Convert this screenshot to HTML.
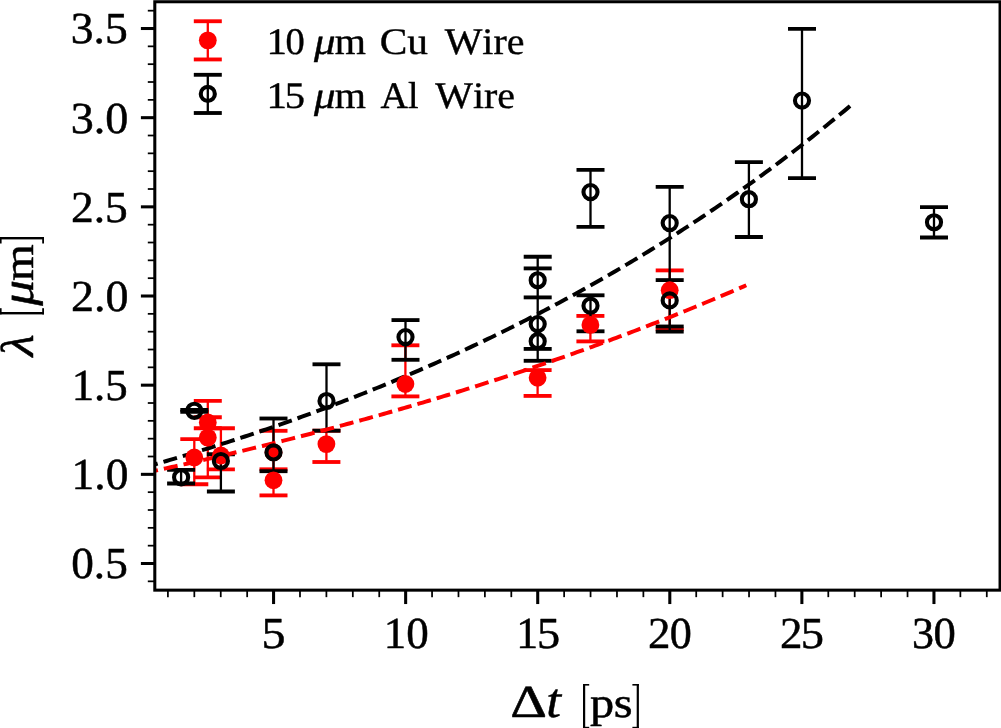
<!DOCTYPE html>
<html lang="en">
<head>
<meta charset="utf-8">
<title>Wavelength vs. delay</title>
<style>
html,body{margin:0;padding:0;background:#ffffff;}
body{width:1001px;height:728px;overflow:hidden;position:relative;font-family:"Liberation Serif",serif;}
</style>
</head>
<body>
<svg width="1001" height="728" viewBox="0 0 1001 728" style="display:block;position:absolute;left:0;top:0;will-change:transform" text-rendering="geometricPrecision" font-family="'Liberation Serif', serif" fill="#000">
<rect x="0" y="0" width="1001" height="728" fill="#ffffff"/>
<defs><clipPath id="ax"><rect x="154.8" y="1.75" width="845.25" height="588.4"/></clipPath></defs>
<g clip-path="url(#ax)">
<line x1="194.30" y1="439.10" x2="194.30" y2="484.20" stroke="#ff0000" stroke-width="2.3"/>
<line x1="207.80" y1="417.20" x2="207.80" y2="428.20" stroke="#ff0000" stroke-width="2.3"/>
<line x1="207.80" y1="400.90" x2="207.80" y2="477.30" stroke="#ff0000" stroke-width="2.3"/>
<line x1="220.90" y1="428.20" x2="220.90" y2="469.30" stroke="#ff0000" stroke-width="2.3"/>
<line x1="273.50" y1="430.80" x2="273.50" y2="495.40" stroke="#ff0000" stroke-width="2.3"/>
<line x1="326.40" y1="430.70" x2="326.40" y2="462.00" stroke="#ff0000" stroke-width="2.3"/>
<line x1="405.40" y1="345.30" x2="405.40" y2="396.40" stroke="#ff0000" stroke-width="2.3"/>
<line x1="537.60" y1="370.10" x2="537.60" y2="395.90" stroke="#ff0000" stroke-width="2.3"/>
<line x1="590.40" y1="315.90" x2="590.40" y2="341.40" stroke="#ff0000" stroke-width="2.3"/>
<line x1="669.70" y1="270.40" x2="669.70" y2="329.20" stroke="#ff0000" stroke-width="2.3"/>
<line x1="180.30" y1="439.10" x2="208.30" y2="439.10" stroke="#ff0000" stroke-width="3.85"/>
<line x1="180.30" y1="484.20" x2="208.30" y2="484.20" stroke="#ff0000" stroke-width="3.85"/>
<line x1="193.80" y1="417.20" x2="221.80" y2="417.20" stroke="#ff0000" stroke-width="3.85"/>
<line x1="193.80" y1="428.20" x2="221.80" y2="428.20" stroke="#ff0000" stroke-width="3.85"/>
<line x1="193.80" y1="400.90" x2="221.80" y2="400.90" stroke="#ff0000" stroke-width="3.85"/>
<line x1="193.80" y1="477.30" x2="221.80" y2="477.30" stroke="#ff0000" stroke-width="3.85"/>
<line x1="206.90" y1="428.20" x2="234.90" y2="428.20" stroke="#ff0000" stroke-width="3.85"/>
<line x1="206.90" y1="469.30" x2="234.90" y2="469.30" stroke="#ff0000" stroke-width="3.85"/>
<line x1="259.50" y1="430.80" x2="287.50" y2="430.80" stroke="#ff0000" stroke-width="3.85"/>
<line x1="259.50" y1="469.30" x2="287.50" y2="469.30" stroke="#ff0000" stroke-width="3.85"/>
<line x1="259.50" y1="495.40" x2="287.50" y2="495.40" stroke="#ff0000" stroke-width="3.85"/>
<line x1="312.40" y1="430.70" x2="340.40" y2="430.70" stroke="#ff0000" stroke-width="3.85"/>
<line x1="312.40" y1="462.00" x2="340.40" y2="462.00" stroke="#ff0000" stroke-width="3.85"/>
<line x1="391.40" y1="345.30" x2="419.40" y2="345.30" stroke="#ff0000" stroke-width="3.85"/>
<line x1="391.40" y1="396.40" x2="419.40" y2="396.40" stroke="#ff0000" stroke-width="3.85"/>
<line x1="523.60" y1="370.10" x2="551.60" y2="370.10" stroke="#ff0000" stroke-width="3.85"/>
<line x1="523.60" y1="395.90" x2="551.60" y2="395.90" stroke="#ff0000" stroke-width="3.85"/>
<line x1="576.40" y1="315.90" x2="604.40" y2="315.90" stroke="#ff0000" stroke-width="3.85"/>
<line x1="576.40" y1="341.40" x2="604.40" y2="341.40" stroke="#ff0000" stroke-width="3.85"/>
<line x1="655.70" y1="270.40" x2="683.70" y2="270.40" stroke="#ff0000" stroke-width="3.85"/>
<line x1="655.70" y1="329.20" x2="683.70" y2="329.20" stroke="#ff0000" stroke-width="3.85"/>
<line x1="181.10" y1="469.80" x2="181.10" y2="483.50" stroke="#000000" stroke-width="2.3"/>
<line x1="194.30" y1="409.90" x2="194.30" y2="411.80" stroke="#000000" stroke-width="2.3"/>
<line x1="220.90" y1="454.20" x2="220.90" y2="491.50" stroke="#000000" stroke-width="2.3"/>
<line x1="273.50" y1="418.50" x2="273.50" y2="471.20" stroke="#000000" stroke-width="2.3"/>
<line x1="326.50" y1="364.30" x2="326.50" y2="430.70" stroke="#000000" stroke-width="2.3"/>
<line x1="405.50" y1="320.10" x2="405.50" y2="359.80" stroke="#000000" stroke-width="2.3"/>
<line x1="537.70" y1="256.80" x2="537.70" y2="360.80" stroke="#000000" stroke-width="2.3"/>
<line x1="590.50" y1="169.80" x2="590.50" y2="226.90" stroke="#000000" stroke-width="2.3"/>
<line x1="590.50" y1="295.30" x2="590.50" y2="331.30" stroke="#000000" stroke-width="2.3"/>
<line x1="669.70" y1="186.80" x2="669.70" y2="331.60" stroke="#000000" stroke-width="2.3"/>
<line x1="748.90" y1="162.10" x2="748.90" y2="237.00" stroke="#000000" stroke-width="2.3"/>
<line x1="802.00" y1="28.90" x2="802.00" y2="178.10" stroke="#000000" stroke-width="2.3"/>
<line x1="934.00" y1="207.10" x2="934.00" y2="237.50" stroke="#000000" stroke-width="2.3"/>
<line x1="167.10" y1="469.80" x2="195.10" y2="469.80" stroke="#000000" stroke-width="3.85"/>
<line x1="167.10" y1="483.50" x2="195.10" y2="483.50" stroke="#000000" stroke-width="3.85"/>
<line x1="180.30" y1="409.90" x2="208.30" y2="409.90" stroke="#000000" stroke-width="3.85"/>
<line x1="180.30" y1="411.80" x2="208.30" y2="411.80" stroke="#000000" stroke-width="3.85"/>
<line x1="206.90" y1="454.20" x2="234.90" y2="454.20" stroke="#000000" stroke-width="3.85"/>
<line x1="206.90" y1="491.50" x2="234.90" y2="491.50" stroke="#000000" stroke-width="3.85"/>
<line x1="259.50" y1="418.50" x2="287.50" y2="418.50" stroke="#000000" stroke-width="3.85"/>
<line x1="259.50" y1="471.20" x2="287.50" y2="471.20" stroke="#000000" stroke-width="3.85"/>
<line x1="312.50" y1="364.30" x2="340.50" y2="364.30" stroke="#000000" stroke-width="3.85"/>
<line x1="312.50" y1="430.70" x2="340.50" y2="430.70" stroke="#000000" stroke-width="3.85"/>
<line x1="391.50" y1="320.10" x2="419.50" y2="320.10" stroke="#000000" stroke-width="3.85"/>
<line x1="391.50" y1="359.80" x2="419.50" y2="359.80" stroke="#000000" stroke-width="3.85"/>
<line x1="523.70" y1="256.80" x2="551.70" y2="256.80" stroke="#000000" stroke-width="3.85"/>
<line x1="523.70" y1="268.40" x2="551.70" y2="268.40" stroke="#000000" stroke-width="3.85"/>
<line x1="523.70" y1="297.40" x2="551.70" y2="297.40" stroke="#000000" stroke-width="3.85"/>
<line x1="523.70" y1="348.90" x2="551.70" y2="348.90" stroke="#000000" stroke-width="3.85"/>
<line x1="523.70" y1="360.80" x2="551.70" y2="360.80" stroke="#000000" stroke-width="3.85"/>
<line x1="576.50" y1="169.80" x2="604.50" y2="169.80" stroke="#000000" stroke-width="3.85"/>
<line x1="576.50" y1="226.90" x2="604.50" y2="226.90" stroke="#000000" stroke-width="3.85"/>
<line x1="576.50" y1="295.30" x2="604.50" y2="295.30" stroke="#000000" stroke-width="3.85"/>
<line x1="576.50" y1="331.30" x2="604.50" y2="331.30" stroke="#000000" stroke-width="3.85"/>
<line x1="655.70" y1="186.80" x2="683.70" y2="186.80" stroke="#000000" stroke-width="3.85"/>
<line x1="655.70" y1="280.10" x2="683.70" y2="280.10" stroke="#000000" stroke-width="3.85"/>
<line x1="655.70" y1="326.50" x2="683.70" y2="326.50" stroke="#000000" stroke-width="3.85"/>
<line x1="655.70" y1="331.60" x2="683.70" y2="331.60" stroke="#000000" stroke-width="3.85"/>
<line x1="734.90" y1="162.10" x2="762.90" y2="162.10" stroke="#000000" stroke-width="3.85"/>
<line x1="734.90" y1="237.00" x2="762.90" y2="237.00" stroke="#000000" stroke-width="3.85"/>
<line x1="788.00" y1="28.90" x2="816.00" y2="28.90" stroke="#000000" stroke-width="3.85"/>
<line x1="788.00" y1="178.10" x2="816.00" y2="178.10" stroke="#000000" stroke-width="3.85"/>
<line x1="920.00" y1="207.10" x2="948.00" y2="207.10" stroke="#000000" stroke-width="3.85"/>
<line x1="920.00" y1="237.50" x2="948.00" y2="237.50" stroke="#000000" stroke-width="3.85"/>
<polyline points="141.50,473.63 144.52,472.98 147.55,472.33 150.57,471.69 153.60,471.03 156.62,470.38 159.64,469.72 162.67,469.06 165.69,468.40 168.71,467.74 171.74,467.07 174.76,466.41 177.79,465.73 180.81,465.06 183.83,464.39 186.86,463.71 189.88,463.03 192.91,462.34 195.93,461.66 198.95,460.97 201.98,460.28 205.00,459.59 208.02,458.89 211.05,458.20 214.07,457.50 217.10,456.79 220.12,456.09 223.14,455.38 226.17,454.67 229.19,453.96 232.22,453.24 235.24,452.52 238.26,451.80 241.29,451.08 244.31,450.35 247.33,449.62 250.36,448.89 253.38,448.16 256.41,447.42 259.43,446.68 262.45,445.94 265.48,445.20 268.50,444.45 271.53,443.70 274.55,442.95 277.57,442.19 280.60,441.43 283.62,440.67 286.65,439.91 289.67,439.14 292.69,438.38 295.72,437.60 298.74,436.83 301.76,436.05 304.79,435.27 307.81,434.49 310.84,433.70 313.86,432.91 316.88,432.12 319.91,431.33 322.93,430.53 325.96,429.73 328.98,428.93 332.00,428.12 335.03,427.32 338.05,426.50 341.07,425.69 344.10,424.87 347.12,424.05 350.15,423.23 353.17,422.40 356.19,421.57 359.22,420.74 362.24,419.91 365.27,419.07 368.29,418.23 371.31,417.38 374.34,416.53 377.36,415.68 380.38,414.83 383.41,413.97 386.43,413.11 389.46,412.25 392.48,411.39 395.50,410.52 398.53,409.65 401.55,408.77 404.58,407.89 407.60,407.01 410.62,406.13 413.65,405.24 416.67,404.35 419.69,403.45 422.72,402.56 425.74,401.66 428.77,400.75 431.79,399.84 434.81,398.93 437.84,398.02 440.86,397.10 443.89,396.18 446.91,395.26 449.93,394.33 452.96,393.40 455.98,392.47 459.00,391.53 462.03,390.59 465.05,389.65 468.08,388.70 471.10,387.75 474.12,386.80 477.15,385.84 480.17,384.88 483.20,383.91 486.22,382.95 489.24,381.97 492.27,381.00 495.29,380.02 498.32,379.04 501.34,378.05 504.36,377.06 507.39,376.07 510.41,375.08 513.43,374.08 516.46,373.07 519.48,372.07 522.51,371.06 525.53,370.04 528.55,369.02 531.58,368.00 534.60,366.98 537.63,365.95 540.65,364.92 543.67,363.88 546.70,362.84 549.72,361.80 552.74,360.75 555.77,359.70 558.79,358.64 561.82,357.58 564.84,356.52 567.86,355.46 570.89,354.39 573.91,353.31 576.94,352.23 579.96,351.15 582.98,350.07 586.01,348.98 589.03,347.88 592.05,346.78 595.08,345.68 598.10,344.58 601.13,343.47 604.15,342.35 607.17,341.24 610.20,340.12 613.22,338.99 616.25,337.86 619.27,336.73 622.29,335.59 625.32,334.45 628.34,333.30 631.36,332.15 634.39,331.00 637.41,329.84 640.44,328.68 643.46,327.51 646.48,326.34 649.51,325.16 652.53,323.98 655.56,322.80 658.58,321.61 661.60,320.42 664.63,319.22 667.65,318.02 670.67,316.82 673.70,315.61 676.72,314.40 679.75,313.18 682.77,311.96 685.79,310.73 688.82,309.50 691.84,308.26 694.87,307.02 697.89,305.78 700.91,304.53 703.94,303.27 706.96,302.02 709.99,300.75 713.01,299.49 716.03,298.21 719.06,296.94 722.08,295.66 725.10,294.37 728.13,293.08 731.15,291.79 734.18,290.49 737.20,289.18 740.22,287.87 743.25,286.56 746.27,285.24" fill="none" stroke="#ff0000" stroke-width="4.0" stroke-dasharray="14.05 6.08" stroke-dashoffset="-2.75" stroke-linecap="butt" stroke-linejoin="round"/>
<polyline points="141.50,468.17 145.07,467.16 148.63,466.14 152.20,465.12 155.76,464.09 159.33,463.06 162.90,462.02 166.46,460.97 170.03,459.92 173.59,458.87 177.16,457.80 180.73,456.74 184.29,455.66 187.86,454.58 191.42,453.50 194.99,452.40 198.56,451.31 202.12,450.20 205.69,449.09 209.25,447.98 212.82,446.86 216.39,445.73 219.95,444.59 223.52,443.45 227.08,442.31 230.65,441.15 234.22,439.99 237.78,438.83 241.35,437.66 244.91,436.48 248.48,435.29 252.05,434.10 255.61,432.90 259.18,431.70 262.74,430.49 266.31,429.27 269.88,428.05 273.44,426.81 277.01,425.58 280.57,424.33 284.14,423.08 287.71,421.82 291.27,420.56 294.84,419.28 298.41,418.00 301.97,416.72 305.54,415.42 309.10,414.12 312.67,412.82 316.24,411.50 319.80,410.18 323.37,408.85 326.93,407.52 330.50,406.17 334.07,404.82 337.63,403.46 341.20,402.10 344.76,400.72 348.33,399.34 351.90,397.95 355.46,396.56 359.03,395.15 362.59,393.74 366.16,392.32 369.73,390.90 373.29,389.46 376.86,388.02 380.42,386.57 383.99,385.11 387.56,383.64 391.12,382.17 394.69,380.68 398.25,379.19 401.82,377.70 405.39,376.19 408.95,374.67 412.52,373.15 416.08,371.62 419.65,370.08 423.22,368.53 426.78,366.97 430.35,365.40 433.91,363.83 437.48,362.25 441.05,360.65 444.61,359.05 448.18,357.44 451.74,355.83 455.31,354.20 458.88,352.56 462.44,350.92 466.01,349.26 469.57,347.60 473.14,345.93 476.71,344.25 480.27,342.56 483.84,340.86 487.40,339.15 490.97,337.43 494.54,335.70 498.10,333.97 501.67,332.22 505.23,330.46 508.80,328.70 512.37,326.92 515.93,325.13 519.50,323.34 523.06,321.53 526.63,319.72 530.20,317.89 533.76,316.06 537.33,314.21 540.89,312.36 544.46,310.49 548.03,308.62 551.59,306.73 555.16,304.84 558.72,302.93 562.29,301.01 565.86,299.09 569.42,297.15 572.99,295.20 576.56,293.24 580.12,291.27 583.69,289.29 587.25,287.30 590.82,285.29 594.39,283.28 597.95,281.26 601.52,279.22 605.08,277.17 608.65,275.11 612.22,273.05 615.78,270.96 619.35,268.87 622.91,266.77 626.48,264.65 630.05,262.53 633.61,260.39 637.18,258.24 640.74,256.08 644.31,253.90 647.88,251.72 651.44,249.52 655.01,247.31 658.57,245.09 662.14,242.85 665.71,240.61 669.27,238.35 672.84,236.08 676.40,233.79 679.97,231.50 683.54,229.19 687.10,226.87 690.67,224.54 694.23,222.19 697.80,219.83 701.37,217.46 704.93,215.07 708.50,212.67 712.06,210.26 715.63,207.84 719.20,205.40 722.76,202.95 726.33,200.48 729.89,198.00 733.46,195.51 737.03,193.01 740.59,190.49 744.16,187.95 747.72,185.41 751.29,182.84 754.86,180.27 758.42,177.68 761.99,175.08 765.55,172.46 769.12,169.83 772.69,167.18 776.25,164.52 779.82,161.84 783.38,159.15 786.95,156.45 790.52,153.73 794.08,150.99 797.65,148.24 801.21,145.48 804.78,142.70 808.35,139.90 811.91,137.09 815.48,134.27 819.04,131.43 822.61,128.57 826.18,125.70 829.74,122.81 833.31,119.90 836.87,116.98 840.44,114.05 844.01,111.09 847.57,108.13 851.14,105.14 854.70,102.14" fill="none" stroke="#000000" stroke-width="4.0" stroke-dasharray="14.05 6.08" stroke-dashoffset="-2.75" stroke-linecap="butt" stroke-linejoin="round"/>
<circle cx="194.30" cy="457.50" r="8.9" fill="#ff0000"/>
<circle cx="207.80" cy="422.50" r="8.9" fill="#ff0000"/>
<circle cx="207.80" cy="437.60" r="8.9" fill="#ff0000"/>
<circle cx="220.90" cy="455.50" r="8.9" fill="#ff0000"/>
<circle cx="273.50" cy="480.30" r="8.9" fill="#ff0000"/>
<circle cx="273.50" cy="452.40" r="8.9" fill="#ff0000"/>
<circle cx="326.40" cy="444.10" r="8.9" fill="#ff0000"/>
<circle cx="405.40" cy="384.00" r="8.9" fill="#ff0000"/>
<circle cx="537.60" cy="377.80" r="8.9" fill="#ff0000"/>
<circle cx="590.40" cy="324.90" r="8.9" fill="#ff0000"/>
<circle cx="669.70" cy="290.20" r="8.9" fill="#ff0000"/>
<circle cx="181.10" cy="477.30" r="7.05" fill="none" stroke="#000000" stroke-width="4.1"/>
<circle cx="194.30" cy="410.80" r="7.05" fill="none" stroke="#000000" stroke-width="4.1"/>
<circle cx="220.90" cy="461.00" r="7.05" fill="none" stroke="#000000" stroke-width="4.1"/>
<circle cx="273.50" cy="452.40" r="7.05" fill="none" stroke="#000000" stroke-width="4.1"/>
<circle cx="326.50" cy="401.00" r="7.05" fill="none" stroke="#000000" stroke-width="4.1"/>
<circle cx="405.50" cy="337.10" r="7.05" fill="none" stroke="#000000" stroke-width="4.1"/>
<circle cx="537.70" cy="280.30" r="7.05" fill="none" stroke="#000000" stroke-width="4.1"/>
<circle cx="537.70" cy="324.10" r="7.05" fill="none" stroke="#000000" stroke-width="4.1"/>
<circle cx="537.70" cy="341.20" r="7.05" fill="none" stroke="#000000" stroke-width="4.1"/>
<circle cx="590.50" cy="192.10" r="7.05" fill="none" stroke="#000000" stroke-width="4.1"/>
<circle cx="590.50" cy="305.70" r="7.05" fill="none" stroke="#000000" stroke-width="4.1"/>
<circle cx="669.70" cy="223.10" r="7.05" fill="none" stroke="#000000" stroke-width="4.1"/>
<circle cx="669.70" cy="300.40" r="7.05" fill="none" stroke="#000000" stroke-width="4.1"/>
<circle cx="748.90" cy="199.20" r="7.05" fill="none" stroke="#000000" stroke-width="4.1"/>
<circle cx="802.00" cy="100.60" r="7.05" fill="none" stroke="#000000" stroke-width="4.1"/>
<circle cx="934.00" cy="222.30" r="7.05" fill="none" stroke="#000000" stroke-width="4.1"/>
</g>
<line x1="167.91" y1="590.15" x2="167.91" y2="597.15" stroke="#000" stroke-width="1.75"/>
<line x1="194.33" y1="590.15" x2="194.33" y2="597.15" stroke="#000" stroke-width="1.75"/>
<line x1="220.75" y1="590.15" x2="220.75" y2="597.15" stroke="#000" stroke-width="1.75"/>
<line x1="247.16" y1="590.15" x2="247.16" y2="597.15" stroke="#000" stroke-width="1.75"/>
<line x1="273.57" y1="590.15" x2="273.57" y2="604.05" stroke="#000" stroke-width="3.05"/>
<line x1="299.99" y1="590.15" x2="299.99" y2="597.15" stroke="#000" stroke-width="1.75"/>
<line x1="326.40" y1="590.15" x2="326.40" y2="597.15" stroke="#000" stroke-width="1.75"/>
<line x1="352.82" y1="590.15" x2="352.82" y2="597.15" stroke="#000" stroke-width="1.75"/>
<line x1="379.24" y1="590.15" x2="379.24" y2="597.15" stroke="#000" stroke-width="1.75"/>
<line x1="405.65" y1="590.15" x2="405.65" y2="604.05" stroke="#000" stroke-width="3.05"/>
<line x1="432.06" y1="590.15" x2="432.06" y2="597.15" stroke="#000" stroke-width="1.75"/>
<line x1="458.48" y1="590.15" x2="458.48" y2="597.15" stroke="#000" stroke-width="1.75"/>
<line x1="484.89" y1="590.15" x2="484.89" y2="597.15" stroke="#000" stroke-width="1.75"/>
<line x1="511.31" y1="590.15" x2="511.31" y2="597.15" stroke="#000" stroke-width="1.75"/>
<line x1="537.72" y1="590.15" x2="537.72" y2="604.05" stroke="#000" stroke-width="3.05"/>
<line x1="564.14" y1="590.15" x2="564.14" y2="597.15" stroke="#000" stroke-width="1.75"/>
<line x1="590.56" y1="590.15" x2="590.56" y2="597.15" stroke="#000" stroke-width="1.75"/>
<line x1="616.97" y1="590.15" x2="616.97" y2="597.15" stroke="#000" stroke-width="1.75"/>
<line x1="643.38" y1="590.15" x2="643.38" y2="597.15" stroke="#000" stroke-width="1.75"/>
<line x1="669.80" y1="590.15" x2="669.80" y2="604.05" stroke="#000" stroke-width="3.05"/>
<line x1="696.22" y1="590.15" x2="696.22" y2="597.15" stroke="#000" stroke-width="1.75"/>
<line x1="722.63" y1="590.15" x2="722.63" y2="597.15" stroke="#000" stroke-width="1.75"/>
<line x1="749.04" y1="590.15" x2="749.04" y2="597.15" stroke="#000" stroke-width="1.75"/>
<line x1="775.46" y1="590.15" x2="775.46" y2="597.15" stroke="#000" stroke-width="1.75"/>
<line x1="801.88" y1="590.15" x2="801.88" y2="604.05" stroke="#000" stroke-width="3.05"/>
<line x1="828.29" y1="590.15" x2="828.29" y2="597.15" stroke="#000" stroke-width="1.75"/>
<line x1="854.70" y1="590.15" x2="854.70" y2="597.15" stroke="#000" stroke-width="1.75"/>
<line x1="881.12" y1="590.15" x2="881.12" y2="597.15" stroke="#000" stroke-width="1.75"/>
<line x1="907.53" y1="590.15" x2="907.53" y2="597.15" stroke="#000" stroke-width="1.75"/>
<line x1="933.95" y1="590.15" x2="933.95" y2="604.05" stroke="#000" stroke-width="3.05"/>
<line x1="960.37" y1="590.15" x2="960.37" y2="597.15" stroke="#000" stroke-width="1.75"/>
<line x1="986.78" y1="590.15" x2="986.78" y2="597.15" stroke="#000" stroke-width="1.75"/>
<line x1="154.8" y1="581.34" x2="147.8" y2="581.34" stroke="#000" stroke-width="1.75"/>
<line x1="154.8" y1="563.50" x2="140.9" y2="563.50" stroke="#000" stroke-width="3.05"/>
<line x1="154.8" y1="545.67" x2="147.8" y2="545.67" stroke="#000" stroke-width="1.75"/>
<line x1="154.8" y1="527.84" x2="147.8" y2="527.84" stroke="#000" stroke-width="1.75"/>
<line x1="154.8" y1="510.01" x2="147.8" y2="510.01" stroke="#000" stroke-width="1.75"/>
<line x1="154.8" y1="492.17" x2="147.8" y2="492.17" stroke="#000" stroke-width="1.75"/>
<line x1="154.8" y1="474.34" x2="140.9" y2="474.34" stroke="#000" stroke-width="3.05"/>
<line x1="154.8" y1="456.51" x2="147.8" y2="456.51" stroke="#000" stroke-width="1.75"/>
<line x1="154.8" y1="438.67" x2="147.8" y2="438.67" stroke="#000" stroke-width="1.75"/>
<line x1="154.8" y1="420.84" x2="147.8" y2="420.84" stroke="#000" stroke-width="1.75"/>
<line x1="154.8" y1="403.01" x2="147.8" y2="403.01" stroke="#000" stroke-width="1.75"/>
<line x1="154.8" y1="385.17" x2="140.9" y2="385.17" stroke="#000" stroke-width="3.05"/>
<line x1="154.8" y1="367.34" x2="147.8" y2="367.34" stroke="#000" stroke-width="1.75"/>
<line x1="154.8" y1="349.51" x2="147.8" y2="349.51" stroke="#000" stroke-width="1.75"/>
<line x1="154.8" y1="331.68" x2="147.8" y2="331.68" stroke="#000" stroke-width="1.75"/>
<line x1="154.8" y1="313.84" x2="147.8" y2="313.84" stroke="#000" stroke-width="1.75"/>
<line x1="154.8" y1="296.01" x2="140.9" y2="296.01" stroke="#000" stroke-width="3.05"/>
<line x1="154.8" y1="278.18" x2="147.8" y2="278.18" stroke="#000" stroke-width="1.75"/>
<line x1="154.8" y1="260.34" x2="147.8" y2="260.34" stroke="#000" stroke-width="1.75"/>
<line x1="154.8" y1="242.51" x2="147.8" y2="242.51" stroke="#000" stroke-width="1.75"/>
<line x1="154.8" y1="224.68" x2="147.8" y2="224.68" stroke="#000" stroke-width="1.75"/>
<line x1="154.8" y1="206.84" x2="140.9" y2="206.84" stroke="#000" stroke-width="3.05"/>
<line x1="154.8" y1="189.01" x2="147.8" y2="189.01" stroke="#000" stroke-width="1.75"/>
<line x1="154.8" y1="171.18" x2="147.8" y2="171.18" stroke="#000" stroke-width="1.75"/>
<line x1="154.8" y1="153.35" x2="147.8" y2="153.35" stroke="#000" stroke-width="1.75"/>
<line x1="154.8" y1="135.51" x2="147.8" y2="135.51" stroke="#000" stroke-width="1.75"/>
<line x1="154.8" y1="117.68" x2="140.9" y2="117.68" stroke="#000" stroke-width="3.05"/>
<line x1="154.8" y1="99.85" x2="147.8" y2="99.85" stroke="#000" stroke-width="1.75"/>
<line x1="154.8" y1="82.01" x2="147.8" y2="82.01" stroke="#000" stroke-width="1.75"/>
<line x1="154.8" y1="64.18" x2="147.8" y2="64.18" stroke="#000" stroke-width="1.75"/>
<line x1="154.8" y1="46.35" x2="147.8" y2="46.35" stroke="#000" stroke-width="1.75"/>
<line x1="154.8" y1="28.51" x2="140.9" y2="28.51" stroke="#000" stroke-width="3.05"/>
<line x1="154.8" y1="10.68" x2="147.8" y2="10.68" stroke="#000" stroke-width="1.75"/>
<rect x="154.8" y="1.75" width="845.25" height="588.4" fill="none" stroke="#000" stroke-width="3.05"/>
<text x="70.82" y="43.41" font-size="44.3" textLength="56.96" lengthAdjust="spacingAndGlyphs" style="font-kerning:none" stroke="#000" stroke-width="0.5" stroke-linejoin="round">3.5</text>
<text x="70.79" y="132.58" font-size="44.3" textLength="57.66" lengthAdjust="spacingAndGlyphs" style="font-kerning:none" stroke="#000" stroke-width="0.5" stroke-linejoin="round">3.0</text>
<text x="71.00" y="221.74" font-size="44.3" textLength="56.77" lengthAdjust="spacingAndGlyphs" style="font-kerning:none" stroke="#000" stroke-width="0.5" stroke-linejoin="round">2.5</text>
<text x="70.98" y="310.91" font-size="44.3" textLength="57.47" lengthAdjust="spacingAndGlyphs" style="font-kerning:none" stroke="#000" stroke-width="0.5" stroke-linejoin="round">2.0</text>
<text x="71.66" y="400.07" font-size="44.3" textLength="56.10" lengthAdjust="spacingAndGlyphs" style="font-kerning:none" stroke="#000" stroke-width="0.5" stroke-linejoin="round">1.5</text>
<text x="71.60" y="489.24" font-size="44.3" textLength="56.83" lengthAdjust="spacingAndGlyphs" style="font-kerning:none" stroke="#000" stroke-width="0.5" stroke-linejoin="round">1.0</text>
<text x="71.28" y="578.40" font-size="44.3" textLength="56.49" lengthAdjust="spacingAndGlyphs" style="font-kerning:none" stroke="#000" stroke-width="0.5" stroke-linejoin="round">0.5</text>
<text x="261.42" y="648.00" font-size="44.3" textLength="23.96" lengthAdjust="spacingAndGlyphs" style="font-kerning:none" stroke="#000" stroke-width="0.5" stroke-linejoin="round">5</text>
<text x="383.66" y="648.00" font-size="44.3" textLength="22.44" lengthAdjust="spacingAndGlyphs" style="font-kerning:none" stroke="#000" stroke-width="0.5" stroke-linejoin="round">1</text>
<text x="406.18" y="648.00" font-size="44.3" textLength="22.53" lengthAdjust="spacingAndGlyphs" style="font-kerning:none" stroke="#000" stroke-width="0.5" stroke-linejoin="round">0</text>
<text x="516.16" y="648.00" font-size="44.3" textLength="21.87" lengthAdjust="spacingAndGlyphs" style="font-kerning:none" stroke="#000" stroke-width="0.5" stroke-linejoin="round">1</text>
<text x="536.92" y="648.00" font-size="44.3" textLength="23.09" lengthAdjust="spacingAndGlyphs" style="font-kerning:none" stroke="#000" stroke-width="0.5" stroke-linejoin="round">5</text>
<text x="648.13" y="648.00" font-size="44.3" textLength="22.45" lengthAdjust="spacingAndGlyphs" style="font-kerning:none" stroke="#000" stroke-width="0.5" stroke-linejoin="round">2</text>
<text x="669.72" y="648.00" font-size="44.3" textLength="22.06" lengthAdjust="spacingAndGlyphs" style="font-kerning:none" stroke="#000" stroke-width="0.5" stroke-linejoin="round">0</text>
<text x="780.13" y="648.00" font-size="44.3" textLength="22.45" lengthAdjust="spacingAndGlyphs" style="font-kerning:none" stroke="#000" stroke-width="0.5" stroke-linejoin="round">2</text>
<text x="800.70" y="648.00" font-size="44.3" textLength="23.21" lengthAdjust="spacingAndGlyphs" style="font-kerning:none" stroke="#000" stroke-width="0.5" stroke-linejoin="round">5</text>
<text x="911.89" y="648.00" font-size="44.3" textLength="22.03" lengthAdjust="spacingAndGlyphs" style="font-kerning:none" stroke="#000" stroke-width="0.5" stroke-linejoin="round">3</text>
<text x="933.60" y="648.00" font-size="44.3" textLength="22.30" lengthAdjust="spacingAndGlyphs" style="font-kerning:none" stroke="#000" stroke-width="0.5" stroke-linejoin="round">0</text>
<text x="510.33" y="716.50" font-size="46" textLength="36.72" lengthAdjust="spacingAndGlyphs" style="font-kerning:none" stroke="#000" stroke-width="0.5" stroke-linejoin="round">&#916;</text>
<text x="546.16" y="716.50" font-size="49" font-style="italic" textLength="14.77" lengthAdjust="spacingAndGlyphs" style="font-kerning:none" stroke="#000" stroke-width="0.5" stroke-linejoin="round">t</text>
<text x="590.12" y="717.00" font-size="42.5" textLength="24.17" lengthAdjust="spacingAndGlyphs" style="font-kerning:none" stroke="#000" stroke-width="0.5" stroke-linejoin="round">p</text>
<text x="613.72" y="717.00" font-size="42.5" textLength="18.83" lengthAdjust="spacingAndGlyphs" style="font-kerning:none" stroke="#000" stroke-width="0.5" stroke-linejoin="round">s</text>
<rect x="583.00" y="684.00" width="2.2" height="44.40"/><rect x="583.00" y="684.00" width="6.20" height="1.6"/><rect x="583.00" y="726.80" width="6.20" height="1.6"/>
<rect x="636.70" y="684.00" width="2.2" height="44.40"/><rect x="632.40" y="684.00" width="6.50" height="1.6"/><rect x="632.40" y="726.80" width="6.50" height="1.6"/>
<g transform="translate(33.3,358.5) rotate(-90)">
<text x="2.05" y="0.00" font-size="46" font-style="italic" textLength="22.12" lengthAdjust="spacingAndGlyphs" style="font-kerning:none" stroke="#000" stroke-width="0.5" stroke-linejoin="round">&#955;</text>
<text x="52.65" y="0.00" font-size="46" font-style="italic" textLength="25.75" lengthAdjust="spacingAndGlyphs" style="font-kerning:none" stroke="#000" stroke-width="0.5" stroke-linejoin="round">&#956;</text>
<text x="77.51" y="0.00" font-size="42.5" textLength="36.83" lengthAdjust="spacingAndGlyphs" style="font-kerning:none" stroke="#000" stroke-width="0.5" stroke-linejoin="round">m</text>
</g>
<rect x="-0.20" y="312.00" width="44.20" height="2.4"/><rect x="-0.20" y="308.20" width="1.8" height="6.20"/><rect x="42.20" y="308.20" width="1.8" height="6.20"/>
<rect x="-0.20" y="237.00" width="44.20" height="2.4"/><rect x="-0.20" y="237.00" width="1.8" height="6.50"/><rect x="42.20" y="237.00" width="1.8" height="6.50"/>
<line x1="207.8" y1="21.25" x2="207.8" y2="59.45" stroke="#ff0000" stroke-width="2.3"/>
<line x1="193.8" y1="21.25" x2="221.8" y2="21.25" stroke="#ff0000" stroke-width="3.85"/>
<line x1="193.8" y1="59.45" x2="221.8" y2="59.45" stroke="#ff0000" stroke-width="3.85"/>
<circle cx="207.8" cy="40.35" r="8.9" fill="#ff0000"/>
<line x1="207.8" y1="74.80000000000001" x2="207.8" y2="113.0" stroke="#000000" stroke-width="2.3"/>
<line x1="193.8" y1="74.80000000000001" x2="221.8" y2="74.80000000000001" stroke="#000000" stroke-width="3.85"/>
<line x1="193.8" y1="113.0" x2="221.8" y2="113.0" stroke="#000000" stroke-width="3.85"/>
<circle cx="207.8" cy="93.9" r="7.05" fill="none" stroke="#000000" stroke-width="4.1"/>
<text x="266.60" y="53.60" font-size="37.5" textLength="20.45" lengthAdjust="spacingAndGlyphs" style="font-kerning:none" stroke="#000" stroke-width="0.4" stroke-linejoin="round">1</text>
<text x="285.54" y="53.60" font-size="37.5" textLength="19.23" lengthAdjust="spacingAndGlyphs" style="font-kerning:none" stroke="#000" stroke-width="0.4" stroke-linejoin="round">0</text>
<text x="314.04" y="53.60" font-size="37.5" font-style="italic" textLength="21.59" lengthAdjust="spacingAndGlyphs" style="font-kerning:none" stroke="#000" stroke-width="0.4" stroke-linejoin="round">&#956;</text>
<text x="334.66" y="53.60" font-size="37.5" textLength="31.17" lengthAdjust="spacingAndGlyphs" style="font-kerning:none" stroke="#000" stroke-width="0.4" stroke-linejoin="round">m</text>
<text x="379.70" y="53.60" font-size="37.5" textLength="48.31" lengthAdjust="spacingAndGlyphs" style="font-kerning:none" stroke="#000" stroke-width="0.4" stroke-linejoin="round">Cu</text>
<text x="444.76" y="53.60" font-size="37.5" textLength="79.62" lengthAdjust="spacingAndGlyphs" style="font-kerning:none" stroke="#000" stroke-width="0.4" stroke-linejoin="round">Wire</text>
<text x="266.60" y="107.80" font-size="37.5" textLength="20.45" lengthAdjust="spacingAndGlyphs" style="font-kerning:none" stroke="#000" stroke-width="0.4" stroke-linejoin="round">1</text>
<text x="284.65" y="107.80" font-size="37.5" textLength="20.23" lengthAdjust="spacingAndGlyphs" style="font-kerning:none" stroke="#000" stroke-width="0.4" stroke-linejoin="round">5</text>
<text x="314.04" y="107.80" font-size="37.5" font-style="italic" textLength="21.59" lengthAdjust="spacingAndGlyphs" style="font-kerning:none" stroke="#000" stroke-width="0.4" stroke-linejoin="round">&#956;</text>
<text x="334.66" y="107.80" font-size="37.5" textLength="31.17" lengthAdjust="spacingAndGlyphs" style="font-kerning:none" stroke="#000" stroke-width="0.4" stroke-linejoin="round">m</text>
<text x="380.53" y="107.80" font-size="37.5" textLength="38.03" lengthAdjust="spacingAndGlyphs" style="font-kerning:none" stroke="#000" stroke-width="0.4" stroke-linejoin="round">Al</text>
<text x="435.26" y="107.80" font-size="37.5" textLength="79.72" lengthAdjust="spacingAndGlyphs" style="font-kerning:none" stroke="#000" stroke-width="0.4" stroke-linejoin="round">Wire</text>
</svg>
</body>
</html>
